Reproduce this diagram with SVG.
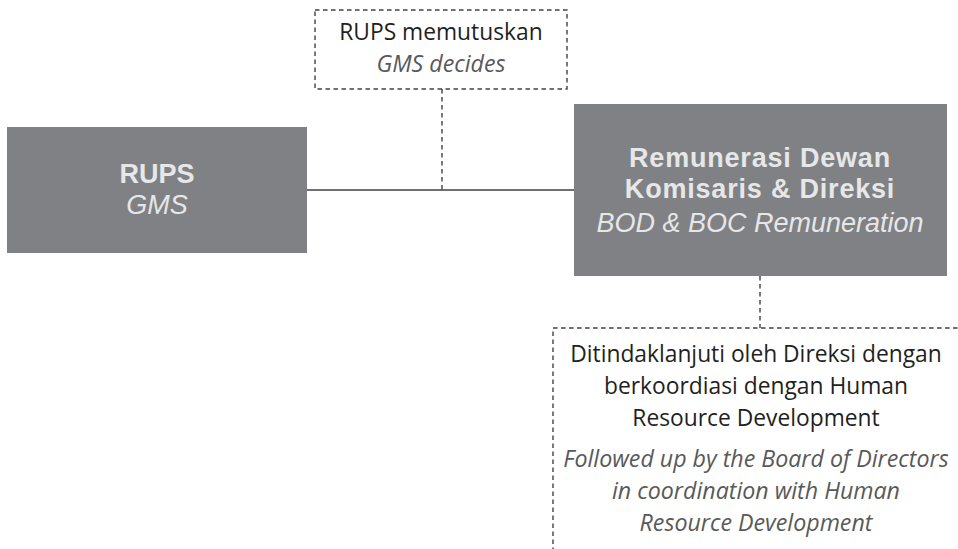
<svg xmlns="http://www.w3.org/2000/svg" width="958" height="549" viewBox="0 0 958 549">
<style>
.box{fill:#808184}
.dash{fill:none;stroke:#414042;stroke-width:1.4;stroke-dasharray:4.5 3.5}
.conn{stroke:#414042;stroke-width:1.6;fill:none}
text{font-family:"Open Sans","Noto Sans","Liberation Sans",sans-serif;text-anchor:middle}
.wb{fill:#e6e7e8;font-family:"Liberation Sans",Arial,sans-serif;font-weight:bold;font-size:27px}
.wi{fill:#e6e7e8;font-family:"Liberation Sans",Arial,sans-serif;font-style:italic;font-size:27px}
.ls{letter-spacing:0.8px}
.dk{fill:#231f20;font-size:22.8px}
.gi{fill:#58595b;font-style:italic;font-size:23.2px}
</style>
<rect width="958" height="549" fill="#ffffff"/>
<g id="connectors">
<line class="conn" x1="307" y1="190" x2="574" y2="190"/>
<line class="dash" x1="442" y1="89" x2="442" y2="190"/>
<line class="dash" x1="760" y1="276" x2="760" y2="328"/>
</g>
<g id="rups">
<rect class="box" x="7" y="127" width="300" height="126"/>
<text class="wb" x="157" y="183">RUPS</text>
<text class="wi" x="157" y="214">GMS</text>
</g>
<g id="decides">
<rect class="dash" x="315" y="10" width="252" height="79"/>
<text class="dk" x="441" y="40">RUPS memutuskan</text>
<text class="gi" x="441" y="72">GMS decides</text>
</g>
<g id="remuneration">
<rect class="box" x="574" y="104" width="373" height="172"/>
<text class="wb ls" x="760" y="167">Remunerasi Dewan</text>
<text class="wb ls" x="760" y="198">Komisaris &amp; Direksi</text>
<text class="wi" x="760" y="232">BOD &amp; BOC Remuneration</text>
</g>
<g id="followup">
<path class="dash" d="M553 560 V328 H970"/>
<text class="dk" x="756" y="362">Ditindaklanjuti oleh Direksi dengan</text>
<text class="dk" x="756" y="394">berkoordiasi dengan Human</text>
<text class="dk" x="756" y="426">Resource Development</text>
<text class="gi" x="756" y="467">Followed up by the Board of Directors</text>
<text class="gi" x="756" y="499">in coordination with Human</text>
<text class="gi" x="756" y="531">Resource Development</text>
</g>
</svg>
